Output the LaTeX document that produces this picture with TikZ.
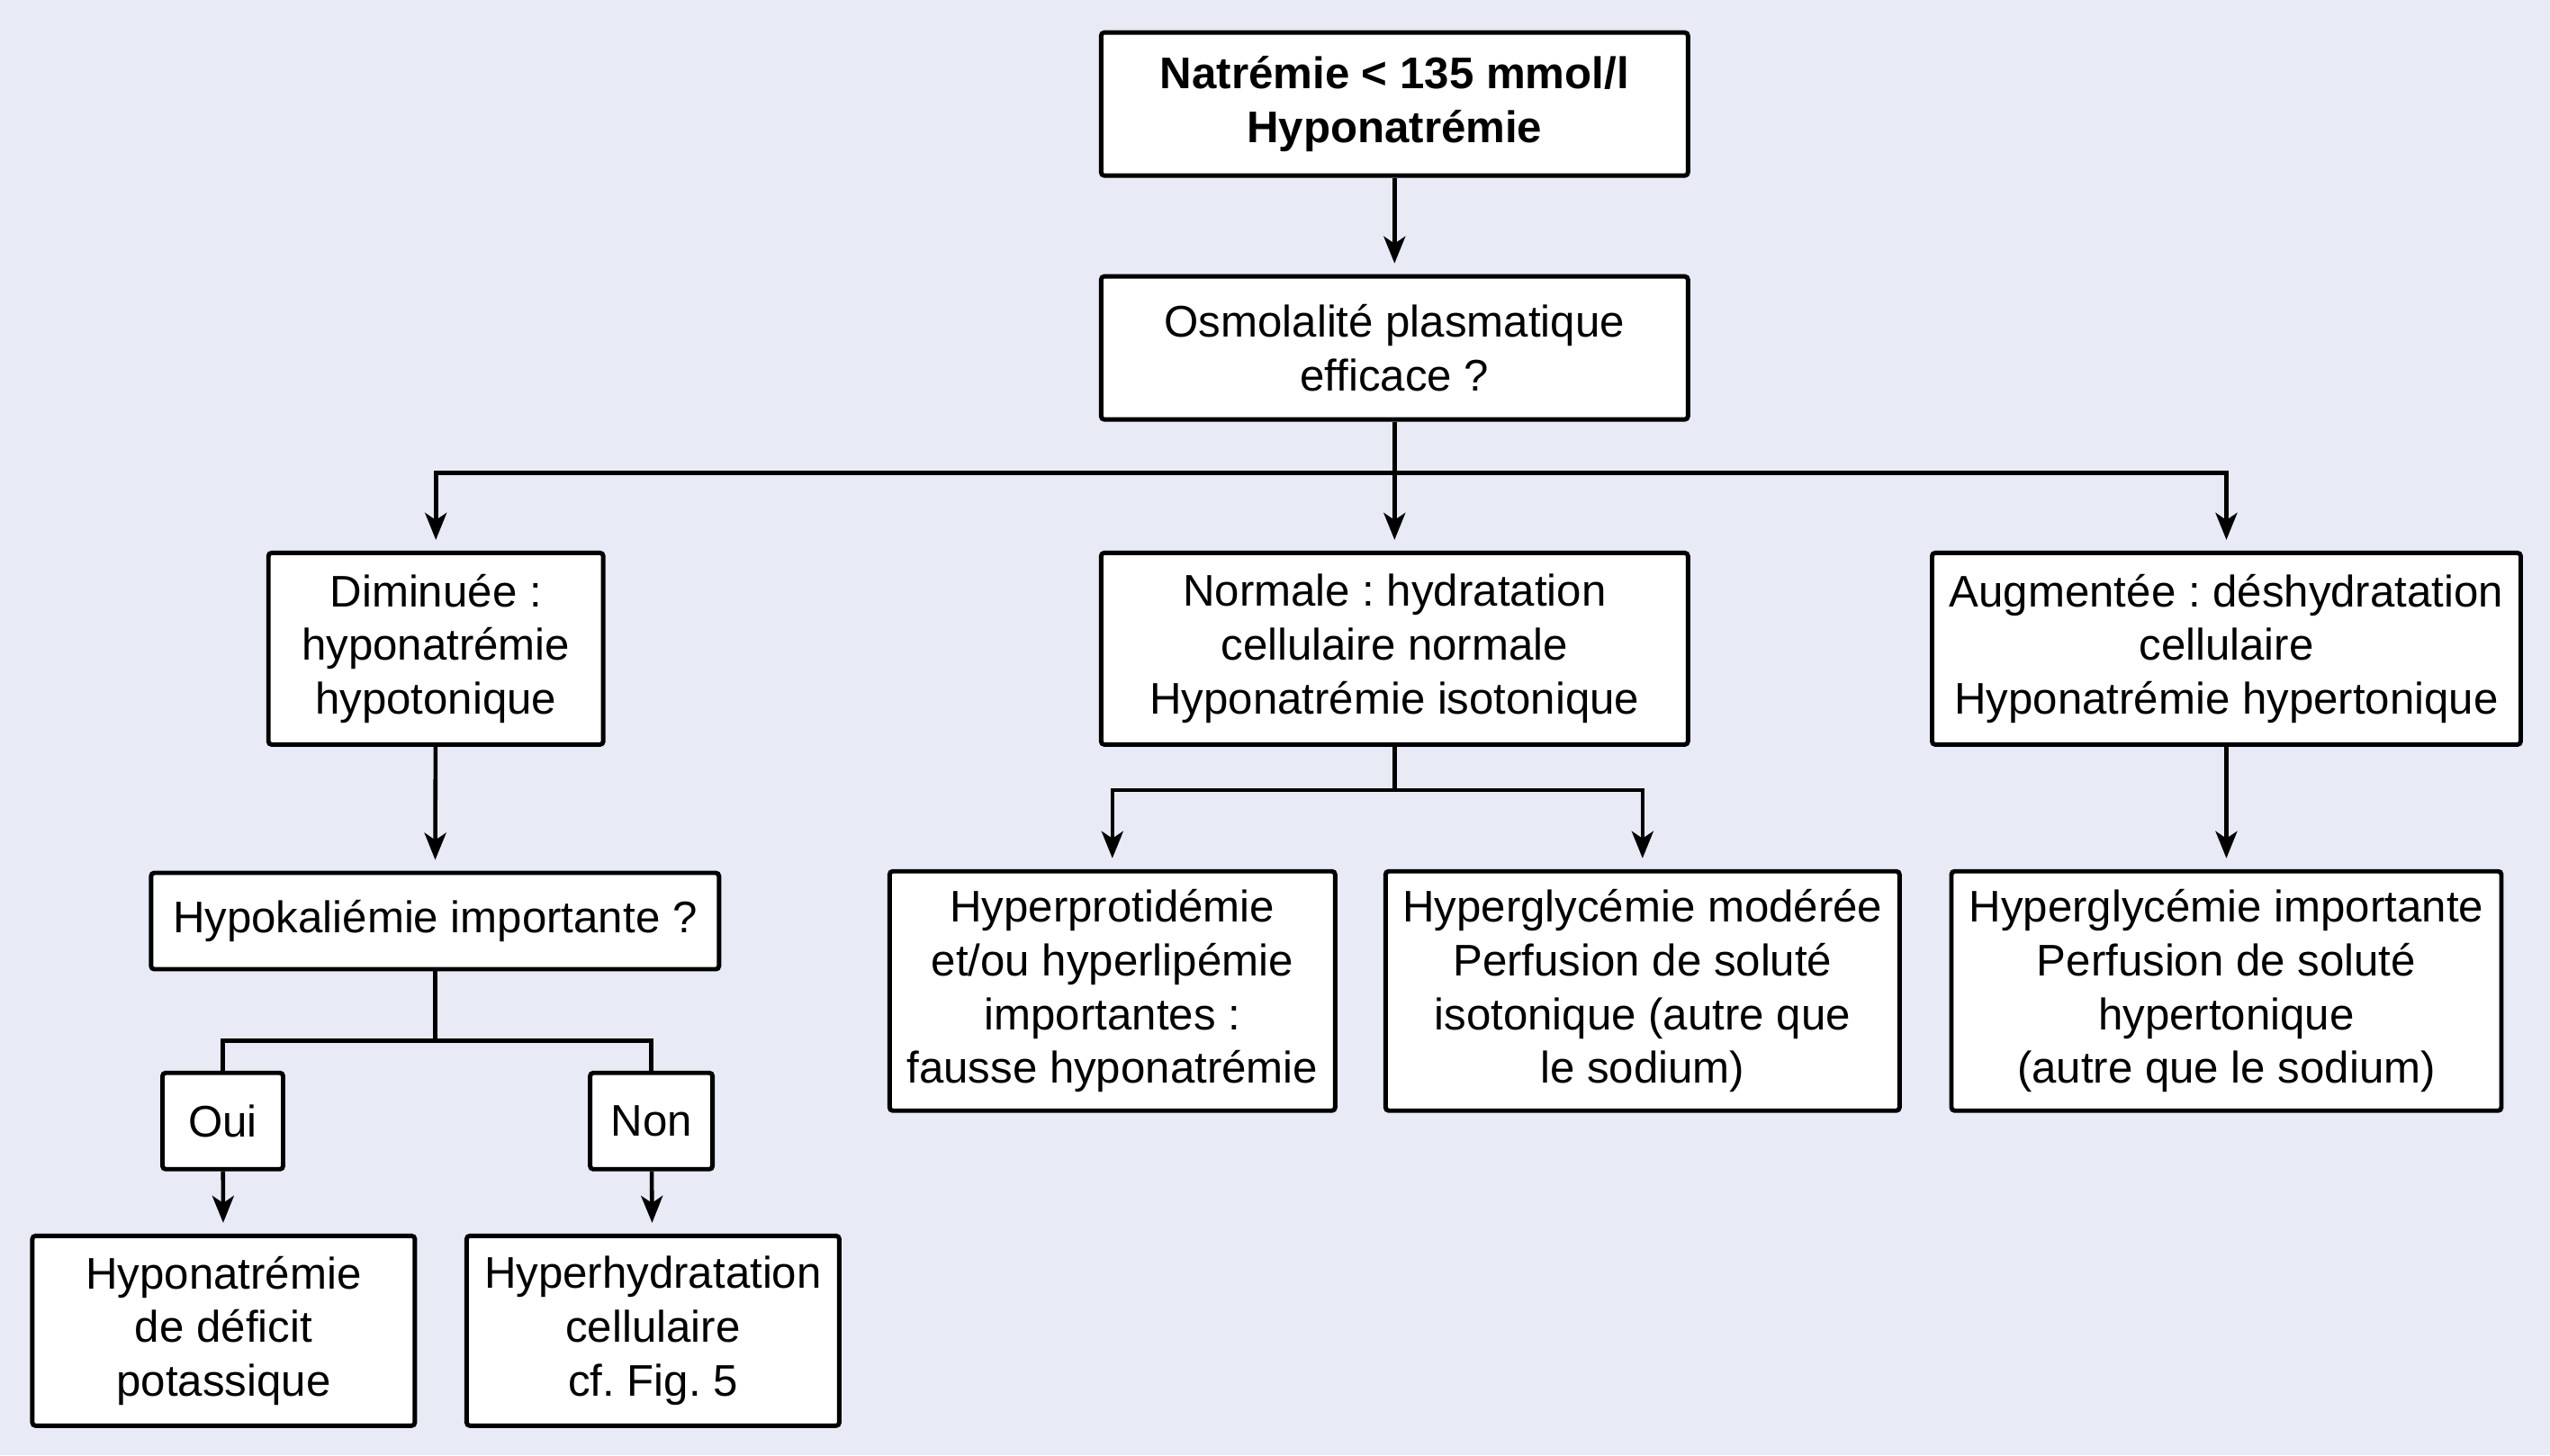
\documentclass[tikz,border=0pt]{standalone}
\usepackage{fontspec}
\setmainfont{Liberation Sans}
\usetikzlibrary{arrows.meta}
\definecolor{fond}{RGB}{232,235,245}
\tikzset{
    every node/.style={draw, fill=white, line width=1.4pt, rounded corners=1pt,
    	align=center, inner sep=0pt, font=\fontsize{14}{17}\selectfont\frenchspacing},
    titre/.style={font=\fontsize{14}{17}\selectfont\frenchspacing\bfseries},
    fleche/.style={-{Stealth[length=3mm, width=2.4mm, inset=0.8mm]},
    	line width=1.3pt, shorten >=1.2mm},
    trait/.style={line width=1.3pt}
}

\begin{document}
\begin{tikzpicture}[x=0.1807mm, y=-0.1807mm]
  \fill[fond] (0,0) rectangle (1568,895);

  \node (natr) [titre, minimum width=65.2mm, minimum height=15.9mm] at (857.5,64) {Natrémie < 135 mmol/l\\Hyponatrémie};
  \node (osmo) [minimum width=65.2mm, minimum height=15.9mm] at (857.5,214) {Osmolalité plasmatique\\efficace ?};
  \node (dim) [minimum width=37.2mm, minimum height=21.3mm] at (268,399) {Diminuée :\\hyponatrémie\\hypotonique};
  \node (norm) [minimum width=65.2mm, minimum height=21.3mm] at (857.5,399) {Normale : hydratation\\cellulaire normale\\Hyponatrémie isotonique};
  \node (augm) [minimum width=65.4mm, minimum height=21.3mm] at (1369,399) {Augmentée : déshydratation\\cellulaire\\Hyponatrémie hypertonique};
  \node (hypok) [minimum width=63.1mm, minimum height=10.7mm] at (267.5,566.5) {Hypokaliémie importante ?};
  \node (oui) [minimum width=13.4mm, minimum height=10.7mm] at (137,689.5) {Oui};
  \node (non) [minimum width=13.6mm, minimum height=10.7mm] at (400.5,689.5) {Non};
  \node (def_k) [minimum width=42.5mm, minimum height=21.1mm] at (137.5,818.5) {Hyponatrémie\\de déficit\\potassique};
  \node (hyperhyd) [minimum width=41.4mm, minimum height=21.1mm] at (401.5,818.5) {Hyperhydratation\\cellulaire\\cf. Fig. 5};
  \node (prot) [minimum width=49.5mm, minimum height=26.6mm] at (684,609.5) {Hyperprotidémie\\et/ou hyperlipémie\\importantes :\\fausse hyponatrémie};
  \node (gly_mod) [minimum width=57.1mm, minimum height=26.6mm] at (1010,609.5) {Hyperglycémie modérée\\Perfusion de soluté\\isotonique (autre que\\le sodium)};
  \node (gly_imp) [minimum width=61.1mm, minimum height=26.6mm] at (1369,609.5) {Hyperglycémie importante\\Perfusion de soluté\\hypertonique\\(autre que le sodium)};

  \coordinate (split_o) at (857.5,291);
  \coordinate (split_k) at (267.5,640);
  \coordinate (split_n) at (857.5,486);

  \draw[fleche] (natr) -- (osmo);
  \draw[trait] (osmo) -- (split_o);
  \draw[fleche] (split_o) -| (dim);
  \draw[fleche] (split_o) -- (norm);
  \draw[fleche] (split_o) -| (augm);

  \draw[fleche] (dim) -- (hypok);
  \draw[trait] (hypok) -- (split_k);
  \draw[trait] (split_k) -| (oui);
  \draw[trait] (split_k) -| (non);
  \draw[fleche] (oui) -- (def_k);
  \draw[fleche] (non) -- (hyperhyd);

  \draw[trait] (norm) -- (split_n);
  \draw[fleche] (split_n) -| (prot);
  \draw[fleche] (split_n) -| (gly_mod);

  \draw[fleche] (augm) -- (gly_imp);
\end{tikzpicture}
\end{document}
